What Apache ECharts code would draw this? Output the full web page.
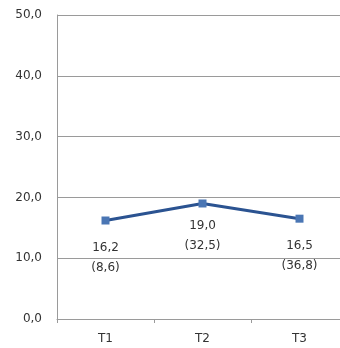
<!DOCTYPE html>
<html><head><meta charset="utf-8">
<script src="https://cdn.jsdelivr.net/npm/echarts@6/dist/echarts.min.js"></script>
<style>html,body{margin:0;padding:0;background:#fff}#c{width:340px;height:348px}</style>
</head><body><div id="c"></div>
<script>
const categories = ['T1', 'T2', 'T3'];
const values = [16.2, 19.0, 16.5];
const secondary = [8.6, 32.5, 36.8];
const yTicks = [0, 10, 20, 30, 40, 50];

const fmt = v => v.toFixed(1).replace('.', ',');
const labelDist = [13, 8, 13];

const chart = echarts.init(document.getElementById('c'));
chart.setOption({
  animation: false,
  grid: { left: 57, top: 15, width: 291, bottom: 29, containLabel: false, outerBoundsMode: 'none' },
  xAxis: {
    type: 'category', data: categories, boundaryGap: true,
    axisLine: { show: true, lineStyle: { color: '#9a9a9a', width: 1 } },
    axisTick: { show: true, length: 4, lineStyle: { color: '#9a9a9a' } },
    axisLabel: { color: '#333', fontSize: 12, fontFamily: 'DejaVu Sans', margin: 14 }
  },
  yAxis: {
    type: 'value', min: yTicks[0], max: yTicks[yTicks.length - 1], interval: 10,
    axisLine: { show: true, lineStyle: { color: '#9a9a9a', width: 1 } },
    axisTick: { show: false },
    splitLine: { show: true, lineStyle: { color: '#9a9a9a', width: 1 } },
    axisLabel: { color: '#333', fontSize: 12, fontFamily: 'DejaVu Sans', margin: 15, formatter: v => fmt(v) }
  },
  series: [{
    type: 'line',
    data: values.map((v, i) => ({
      value: v,
      label: { distance: labelDist[i] }
    })),
    symbol: 'rect', symbolSize: 8,
    lineStyle: { color: '#2b5391', width: 3 },
    itemStyle: { color: '#4a76b4' },
    label: {
      show: true, position: 'bottom', color: '#333', fontSize: 12,
      fontFamily: 'DejaVu Sans', lineHeight: 20,
      formatter: p => fmt(values[p.dataIndex]) + '\n(' + fmt(secondary[p.dataIndex]) + ')'
    }
  }]
});
</script></body></html>
